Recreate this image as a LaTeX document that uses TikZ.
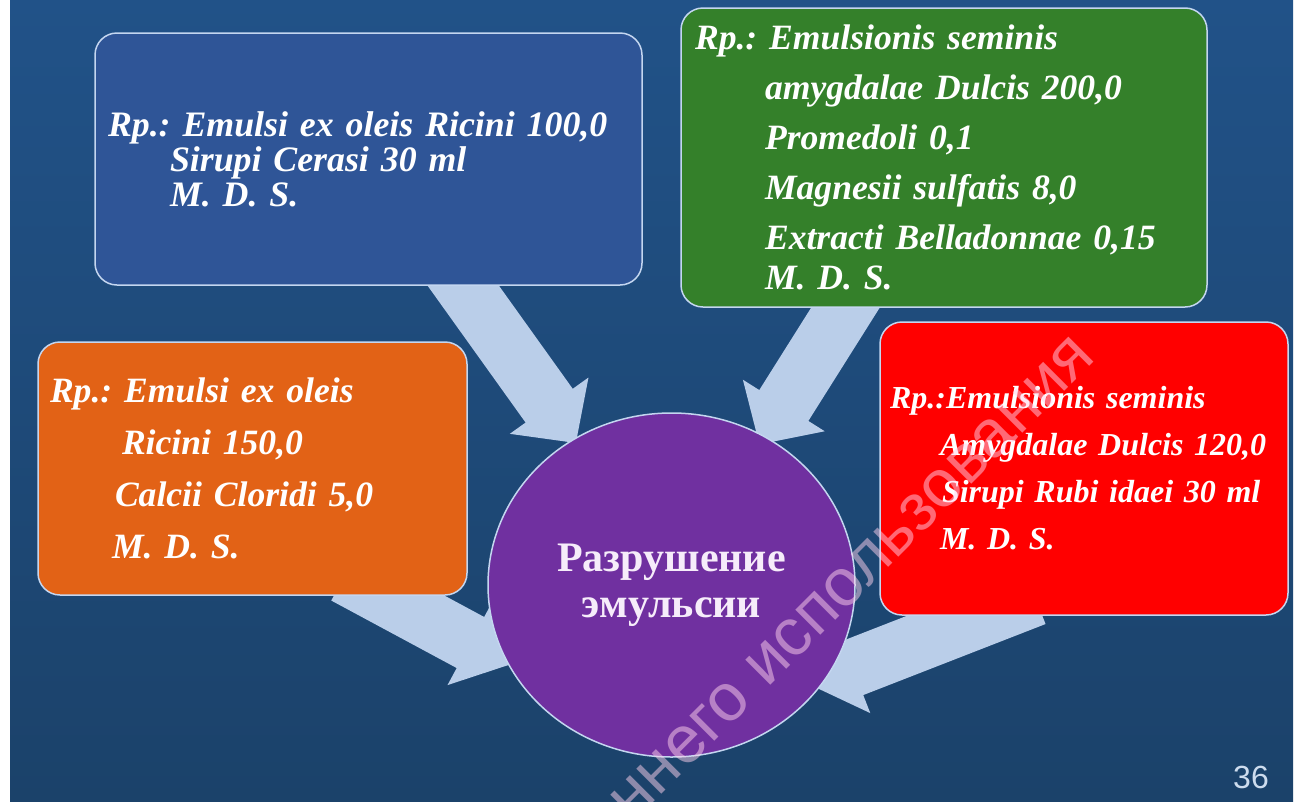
\documentclass[tikz,border=0pt]{standalone}
\usepackage{fontspec}
\setmainfont{Liberation Serif}
\setsansfont{Liberation Sans}
\usetikzlibrary{shapes.geometric,arrows.meta,backgrounds}
\frenchspacing

\definecolor{slidetop}{RGB}{33,82,136}
\definecolor{slidemid}{RGB}{64,130,186}
\definecolor{slidebot}{RGB}{27,66,106}
\definecolor{boxblue}{RGB}{47,85,151}
\definecolor{boxgreen}{RGB}{52,128,42}
\definecolor{boxorange}{RGB}{226,98,22}
\definecolor{boxred}{RGB}{255,0,0}
\definecolor{circpurple}{RGB}{112,48,160}
\definecolor{arrowblue}{RGB}{186,206,233}
\definecolor{rimblue}{RGB}{196,214,240}
\definecolor{pagenum}{RGB}{205,220,238}
\definecolor{markpink}{RGB}{255,210,236}

\tikzset{
  recipe/.style={draw=rimblue, line width=1.5pt, rounded corners=22pt,
    text=white, align=left},
  flow/.style={arrowblue, line width=58pt, -{Triangle[length=46pt,width=94pt]}},
}

\begin{document}
\begin{tikzpicture}[x=1pt, y=-1pt]
  \useasboundingbox (0,0) rectangle (1300,801);

  % slide background
  \begin{scope}[on background layer]
    \fill[white] (0,0) rectangle (1300,801);
    \shade[top color=slidetop, middle color=slidemid, bottom color=slidebot]
      (10,0) rectangle (1293,801);
  \end{scope}

  % recipe boxes
  \node[recipe, fill=boxblue, minimum width=547pt, minimum height=252pt,
    inner xsep=13pt, text width=521pt,
    font=\bfseries\itshape\fontsize{35.8}{35}\selectfont] (blue) at (368.5,159)
    {Rp.: Emulsi ex oleis Ricini 100,0\\
     \hspace*{62pt}Sirupi Cerasi 30 ml\\
     \hspace*{62pt}M. D. S.};

  \node[recipe, fill=boxgreen, minimum width=526pt, minimum height=299pt,
    inner xsep=14pt, text width=498pt,
    font=\bfseries\itshape\fontsize{35.6}{50}\selectfont] (green) at (944,157.5)
    {Rp.: Emulsionis seminis\\
     \hspace*{70pt}amygdalae Dulcis 200,0\\
     \hspace*{70pt}Promedoli 0,1\\
     \hspace*{70pt}Magnesii sulfatis 8,0\\
     \hspace*{70pt}Extracti Belladonnae 0,15\\[-10pt]
     \hspace*{70pt}M. D. S.};

  \node[recipe, fill=boxorange, minimum width=429pt, minimum height=253pt,
    inner xsep=12pt, text width=405pt,
    font=\bfseries\itshape\fontsize{35.6}{52}\selectfont] (orange) at (252.5,468.5)
    {Rp.: Emulsi ex oleis\\
     \hspace*{72pt}Ricini 150,0\\
     \hspace*{65pt}Calcii Cloridi 5,0\\
     \hspace*{62pt}M. D. S.};

  \node[recipe, fill=boxred, minimum width=408pt, minimum height=293pt,
    inner xsep=10pt, text width=388pt,
    font=\bfseries\itshape\fontsize{32}{47}\selectfont] (red) at (1084,468.5)
    {Rp.:Emulsionis seminis\\
     \hspace*{50pt}Amygdalae Dulcis 120,0\\
     \hspace*{52pt}Sirupi Rubi idaei 30 ml\\
     \hspace*{50pt}M. D. S.};

  % centre
  \node[ellipse, fill=circpurple, draw=rimblue, line width=1.5pt,
    minimum width=367pt, minimum height=344pt, align=center,
    text={rgb,255:red,246;green,236;blue,250},
    font=\bfseries\fontsize{42}{46}\selectfont] (circ) at (671.5,585)
    {Разрушение\\эмульсии};

  % block arrows behind the shapes
  \begin{scope}[on background layer]
    \coordinate (s1) at (442,256);
    \coordinate (s2) at (866,275);
    \coordinate (s3) at (345,575);
    \coordinate (s4) at (1035,597);
    \draw[flow, shorten >=-5pt] (s1) -- (circ.124);
    \draw[flow, shorten >=-10pt] (s2) -- (circ.58);
    \draw[flow, shorten >=-5pt] (s3) -- (circ.205);
    \draw[flow, shorten >=-18pt] (s4) -- (circ.-31);
  \end{scope}

  \node[text=pagenum, font=\sffamily\fontsize{32}{32}\selectfont] (page) at (1251,777) {36};

  % watermark
  \node[rotate=45, anchor=base east, text=markpink, opacity=0.5,
    font=\sffamily\fontsize{67}{67}\selectfont] (mark) at (1100,356)
    {внутреннего использования};
\end{tikzpicture}
\end{document}
